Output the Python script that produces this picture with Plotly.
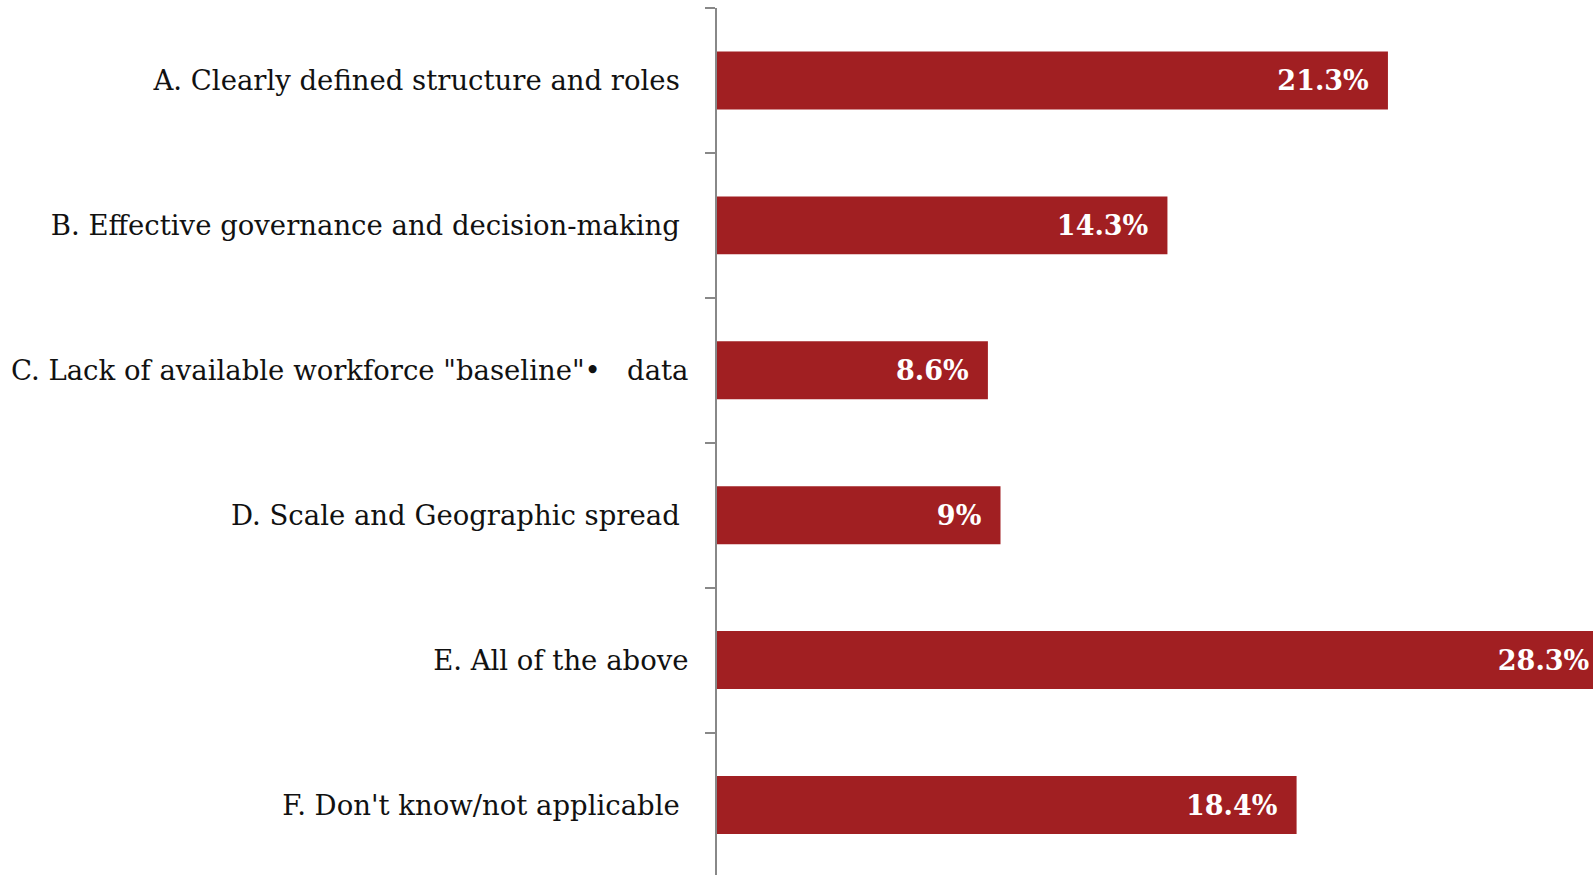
import plotly.graph_objects as go

NB = "\u00a0"
categories = [
    "A. Clearly defined structure and roles" + NB,
    "B. Effective governance and decision-making" + NB,
    'C. Lack of available workforce "baseline"•' + NB * 3 + "data",
    "D. Scale and Geographic spread" + NB,
    "E. All of the above",
    "F. Don't know/not applicable" + NB,
]
values = [21.3, 14.3, 8.6, 9, 28.3, 18.4]
value_labels = [f"{v:g}%" + "\u2002\u200a" for v in values]

BAR = "#A11F22"
SERIF = "DejaVu Serif"

fig = go.Figure(
    go.Bar(
        x=values,
        y=categories,
        orientation="h",
        marker=dict(color=BAR, line=dict(width=0)),
        width=0.4,
        text=value_labels,
        textposition="inside",
        insidetextanchor="end",
        textangle=0,
        constraintext="none",
        textfont=dict(family=SERIF, size=27, color="white", weight="bold"),
        hoverinfo="skip",
        cliponaxis=True,
    )
)

fig.update_layout(
    width=1593,
    height=875,
    margin=dict(l=717, r=0, t=8, b=0, autoexpand=False),
    paper_bgcolor="white",
    plot_bgcolor="white",
    showlegend=False,
    bargap=0.6,
)
fig.update_xaxes(
    range=[0, 27.81],
    showgrid=False,
    zeroline=False,
    showticklabels=False,
    ticks="",
    showline=False,
)
fig.update_yaxes(
    type="category",
    categoryorder="array",
    categoryarray=categories,
    range=[5.483, -0.5],
    showgrid=False,
    zeroline=False,
    showline=True,
    linecolor="#888888",
    linewidth=2,
    ticks="outside",
    tickson="boundaries",
    ticklen=10,
    tickwidth=2,
    tickcolor="#888888",
    ticklabelstandoff=21,
    tickfont=dict(family=SERIF, size=27.5, color="#111111"),
    automargin=False,
)

fig.write_html("out.html")
